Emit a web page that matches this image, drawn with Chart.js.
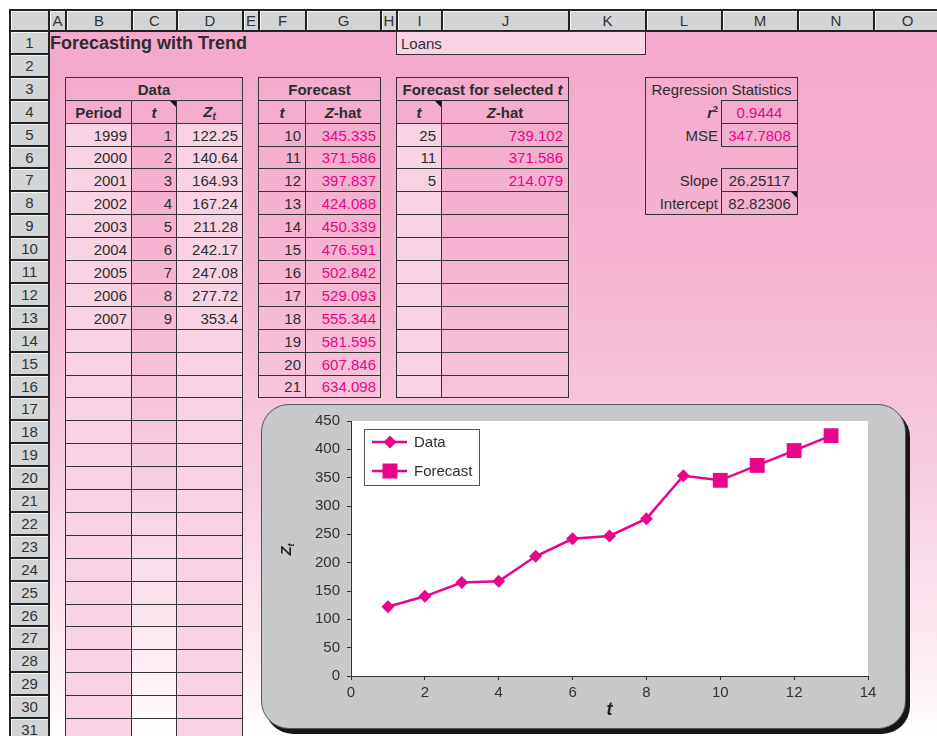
<!DOCTYPE html>
<html><head><meta charset="utf-8">
<script src="https://cdn.jsdelivr.net/npm/chart.js@4.4.0/dist/chart.umd.min.js"></script>
<style>
html,body{margin:0;padding:0;background:#fff;width:937px;height:736px;overflow:hidden;font-family:"Liberation Sans",Arial,Helvetica,sans-serif;color:#2e2e2e;}
#sheet{position:absolute;left:0;top:0;width:937px;height:736px;}
#bg{position:absolute;left:48px;top:30px;width:889px;height:706px;background:linear-gradient(to bottom,#f3a8cb 0%,#f5b6d2 35%,#f8cfe1 65%,#fcebf3 88%,#fff 100%);}
.hd{position:absolute;box-sizing:border-box;background:#d3d4d6;border:2px solid #222;box-shadow:inset 1px 1px 0 #f6f6f6;font-size:15px;display:flex;align-items:center;justify-content:center;color:#333;}
.c{position:absolute;box-sizing:border-box;border:1px solid #333;font-size:15px;display:flex;align-items:center;white-space:pre;padding:0 4px;color:#2e2e2e;}
.tri{position:absolute;right:0;top:0;width:0;height:0;border-top:6px solid #111;border-left:6px solid transparent;}
sub{font-size:10px;vertical-align:-3px;}
sup{font-size:9px;vertical-align:6px;}
#box{position:absolute;left:261px;top:404px;width:645px;height:325px;box-sizing:border-box;border-radius:28px;background:#c7c8ca;border:1px solid #555;box-shadow:4px 5px 0 #161616;}
#cv{position:absolute;left:262px;top:405px;}
</style>
</head><body>
<div id="sheet"><div id="bg"></div></div>
<canvas id="cv" width="643" height="324"></canvas>
<script>
// ---- data ----
const periods = [1999, 2000, 2001, 2002, 2003, 2004, 2005, 2006, 2007];
const tValues = [1, 2, 3, 4, 5, 6, 7, 8, 9];
const zValues = [122.25, 140.64, 164.93, 167.24, 211.28, 242.17, 247.08, 277.72, 353.4];
const forecastT = [10, 11, 12, 13, 14, 15, 16, 17, 18, 19, 20, 21];
const forecastZ = ["345.335", "371.586", "397.837", "424.088", "450.339", "476.591", "502.842", "529.093", "555.344", "581.595", "607.846", "634.098"];
const selectedT = [25, 11, 5];
const selectedZ = ["739.102", "371.586", "214.079"];
const regLabels = ["r2", "MSE", "", "Slope", "Intercept"];
const regValues = ["0.9444", "347.7808", "", "26.25117", "82.82306"];
const chartForecastCount = 4;   // forecast points plotted (t = 10..13)
const xTicks = [0, 2, 4, 6, 8, 10, 12, 14];
const yTicks = [0, 50, 100, 150, 200, 250, 300, 350, 400, 450];

const MAG = '#e8058a';
const LIGHT = '#f9d3e4';

// ---- sheet layout ----
const sheet = document.getElementById('sheet');
const COLS = {A:[48,65],B:[65,131],C:[131,176],D:[176,242],E:[242,258],F:[258,305],G:[305,380],H:[380,396],I:[396,441],J:[441,568],K:[568,645],L:[645,721],M:[721,797],N:[797,873],O:[873,950]};
const rowTop = r => Math.round(31 + (r - 1) * 22.9);

function hd(l, t, w, h, txt){
  const d = document.createElement('div'); d.className = 'hd';
  d.style.left = l+'px'; d.style.top = t+'px'; d.style.width = w+'px'; d.style.height = h+'px';
  d.textContent = txt; sheet.appendChild(d);
}
hd(9, 9, 41, 23, '');
for (const k in COLS){ const [a,b] = COLS[k]; hd(a, 9, Math.min(b, 940) - a + 2, 23, k); }
for (let r = 1; r <= 32; r++){ hd(9, rowTop(r) - 1, 41, rowTop(r+1) - rowTop(r) + 2, String(r)); }

function cell(c1, r1, c2, r2, html, o = {}){
  const d = document.createElement('div'); d.className = 'c';
  const l = COLS[c1][0], rr = COLS[c2][1], t = rowTop(r1), b = rowTop(r2 + 1);
  d.style.left = l+'px'; d.style.top = t+'px'; d.style.width = (rr - l + 1)+'px'; d.style.height = (b - t + 1)+'px';
  if (o.bg) d.style.background = o.bg;
  if (o.noBorder) d.style.border = 'none';
  d.style.justifyContent = o.align === 'right' ? 'flex-end' : o.align === 'left' ? 'flex-start' : 'center';
  if (o.color) d.style.color = o.color;
  if (o.bold) d.style.fontWeight = 'bold';
  if (o.pr !== undefined) d.style.paddingRight = o.pr + 'px';
  d.innerHTML = html;
  if (o.tri){ const t2 = document.createElement('div'); t2.className = 'tri'; d.appendChild(t2); }
  sheet.appendChild(d); return d;
}

// title + loans
const title = document.createElement('div');
title.textContent = 'Forecasting with Trend';
Object.assign(title.style, {position:'absolute', left:'50px', top:'32px', height:'23px', lineHeight:'23px', fontSize:'18px', fontWeight:'bold', color:'#2e2e2e'});
sheet.appendChild(title);
cell('I',1,'K',1,'Loans',{bg:LIGHT, align:'left'});

// Data table
cell('B',3,'D',3,'Data',{bold:true});
cell('B',4,'B',4,'Period',{bold:true});
cell('C',4,'C',4,'<i>t</i>',{bold:true, tri:true});
cell('D',4,'D',4,'<i>Z<sub>t</sub></i>',{bold:true});
for (let r = 5; r <= 31; r++){
  const i = r - 5;
  cell('B',r,'B',r, i < periods.length ? String(periods[i]) : '', {bg:LIGHT, align:'right'});
  cell('C',r,'C',r, i < tValues.length ? String(tValues[i]) : '', {align:'right'});
  cell('D',r,'D',r, i < zValues.length ? String(zValues[i]) : '', {bg:LIGHT, align:'right'});
}

// Forecast table
cell('F',3,'G',3,'Forecast',{bold:true});
cell('F',4,'F',4,'<i>t</i>',{bold:true});
cell('G',4,'G',4,'<i>Z</i>-hat',{bold:true});
for (let r = 5; r <= 16; r++){
  const i = r - 5;
  cell('F',r,'F',r, String(forecastT[i]), {align:'right'});
  cell('G',r,'G',r, forecastZ[i], {align:'right', color:MAG});
}

// Forecast for selected t
cell('I',3,'J',3,'<span>Forecast for selected&nbsp;<i>t</i></span>',{bold:true});
cell('I',4,'I',4,'<i>t</i>',{bold:true, tri:true});
cell('J',4,'J',4,'<i>Z</i>-hat',{bold:true});
for (let r = 5; r <= 16; r++){
  const i = r - 5;
  cell('I',r,'I',r, i < selectedT.length ? String(selectedT[i]) : '', {bg:LIGHT, align:'right', pr:5});
  cell('J',r,'J',r, i < selectedZ.length ? selectedZ[i] : '', {align:'right', color:MAG, pr:5});
}

// Regression statistics
cell('L',3,'M',8,'',{});
cell('L',3,'M',3,'Regression Statistics',{noBorder:true});
regLabels.forEach((lab, i) => {
  const r = 4 + i;
  if (!lab) return;
  const html = lab === 'r2' ? '<b><i>r</i><sup>2</sup></b>' : lab;
  cell('L',r,'L',r, html, {noBorder:true, align:'right', pr:4});
  cell('M',r,'M',r, regValues[i], {color: i < 2 ? MAG : '#2e2e2e', tri: i === 4});
});

// chart box
const box = document.createElement('div'); box.id = 'box'; sheet.appendChild(box);
document.body.appendChild(document.getElementById('cv'));

// ---- chart ----
const dataPts = tValues.map((t, i) => ({x:t, y:zValues[i]}));
const fcPts = [{x: tValues[tValues.length-1], y: zValues[zValues.length-1]}]
  .concat(forecastT.slice(0, chartForecastCount).map((t, i) => ({x:t, y: parseFloat(forecastZ[i])})));
const fcRadius = fcPts.map((p, i) => i === 0 ? 0 : 10.5);

const deco = {
  id: 'deco',
  beforeDraw(chart){
    const {ctx, chartArea:a} = chart;
    ctx.save(); ctx.fillStyle = '#fff';
    ctx.fillRect(a.left, a.top, a.right - a.left, a.bottom - a.top);
    ctx.restore();
  },
  afterDraw(chart){
    const {ctx, chartArea:a} = chart;
    ctx.save();
    // legend
    const lx = a.left + 13, ly = a.top + 8, lw = 115, lh = 56;
    ctx.fillStyle = '#fff'; ctx.fillRect(lx, ly, lw, lh);
    ctx.strokeStyle = '#555'; ctx.lineWidth = 1;
    ctx.strokeRect(lx + 0.5, ly + 0.5, lw, lh);
    const items = [{label: chart.data.datasets[0].label, style:'diamond', y: ly + 13},
                   {label: chart.data.datasets[1].label, style:'square', y: ly + 42}];
    items.forEach(it => {
      ctx.strokeStyle = MAG; ctx.lineWidth = 2.5;
      ctx.beginPath(); ctx.moveTo(lx + 8, it.y); ctx.lineTo(lx + 43, it.y); ctx.stroke();
      const cx = lx + 26;
      ctx.fillStyle = MAG; ctx.beginPath();
      if (it.style === 'diamond'){
        ctx.moveTo(cx, it.y - 6.5); ctx.lineTo(cx + 6.5, it.y); ctx.lineTo(cx, it.y + 6.5); ctx.lineTo(cx - 6.5, it.y); ctx.closePath();
      } else {
        ctx.rect(cx - 7.5, it.y - 7.5, 15, 15);
      }
      ctx.fill();
      ctx.fillStyle = '#2e2e2e'; ctx.font = '15px "Liberation Sans", Arial, sans-serif';
      ctx.textBaseline = 'middle'; ctx.textAlign = 'left';
      ctx.fillText(it.label, lx + 50, it.y + 1);
    });
    // x title
    ctx.fillStyle = '#222'; ctx.font = 'bold italic 18px "Liberation Sans", Arial, sans-serif';
    ctx.textAlign = 'center'; ctx.textBaseline = 'middle';
    ctx.fillText('t', (a.left + a.right) / 2, a.bottom + 34);
    // y title
    ctx.translate(25, (a.top + a.bottom) / 2 + 1);
    ctx.rotate(-Math.PI / 2);
    ctx.font = 'bold italic 15px "Liberation Sans", Arial, sans-serif';
    ctx.textAlign = 'left'; ctx.textBaseline = 'middle';
    ctx.fillText('Z', -6, 0);
    ctx.font = 'bold italic 9px "Liberation Sans", Arial, sans-serif';
    ctx.fillText('t', 3, 5);
    ctx.restore();
  }
};

const tickFont = {family: '"Liberation Sans", Arial, sans-serif', size: 15};
new Chart(document.getElementById('cv'), {
  type: 'scatter',
  data: {
    datasets: [
      {label: 'Data', data: dataPts, showLine: true, borderColor: MAG, backgroundColor: MAG,
       borderWidth: 2.5, pointStyle: 'rectRot', pointRadius: 6.5, pointBorderWidth: 0, order: 1},
      {label: 'Forecast', data: fcPts, showLine: true, borderColor: MAG, backgroundColor: MAG,
       borderWidth: 2.5, pointStyle: 'rect', pointRadius: fcRadius, pointBorderWidth: 0, order: 2}
    ]
  },
  options: {
    responsive: false, animation: false, events: [],
    devicePixelRatio: 1,
    layout: {padding: {left: 0, top: 13, right: 37, bottom: 0}},
    plugins: {legend: {display: false}, tooltip: {enabled: false}},
    scales: {
      x: {type: 'linear', min: 0, max: 14,
          afterBuildTicks: s => { s.ticks = xTicks.map(v => ({value: v})); },
          afterFit: s => { s.height = 53; },
          grid: {drawOnChartArea: false, drawTicks: true, tickLength: 4, color: '#333'},
          border: {display: true, color: '#333', width: 1},
          ticks: {font: tickFont, color: '#333', padding: 4, maxRotation: 0}},
      y: {type: 'linear', min: 0, max: 450,
          afterBuildTicks: s => { s.ticks = yTicks.map(v => ({value: v})); },
          afterFit: s => { s.width = 89; },
          grid: {drawOnChartArea: false, drawTicks: true, tickLength: 4, color: '#333'},
          border: {display: true, color: '#333', width: 1},
          ticks: {font: tickFont, color: '#333', padding: 7}}
    }
  },
  plugins: [deco]
});
</script>
</body></html>
